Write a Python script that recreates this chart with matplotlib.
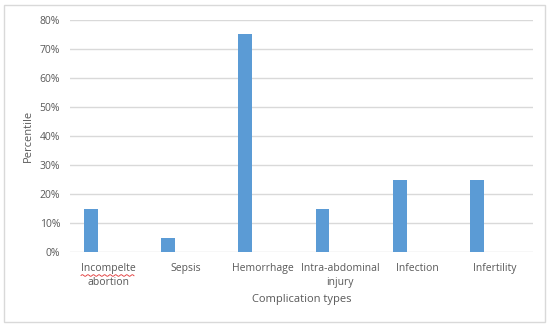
import numpy as np
import matplotlib.pyplot as plt
from matplotlib.patches import Rectangle

# Complication types and the share of cases for each.
categories = ["Incompelte\nabortion", "Sepsis", "Hemorrhage",
              "Intra-abdominal\ninjury", "Infection", "Infertility"]
percent = [15, 5, 75, 15, 25, 25]
y_ticks = [0, 10, 20, 30, 40, 50, 60, 70, 80]

plt.rcParams['font.family'] = ['Open Sans', 'DejaVu Sans']
text_col = '#595959'
grid_col = '#D9D9D9'

fig = plt.figure(figsize=(5.53, 3.27), dpi=100, facecolor='w')
ax = fig.add_axes([70/553, 1 - 252/327, 463/553, 232/327])

# Bars sit left of the category centre, as in a two-series cluster.
x = np.arange(len(categories))
ax.bar(x - 0.228, percent, width=0.18, color='#5B9BD5', zorder=3)

ax.set_xlim(-0.5, len(categories) - 0.5)
ax.set_ylim(0, 80)
ax.set_yticks(y_ticks)
ax.set_yticklabels(["%d%%" % v for v in y_ticks])
ax.set_xticks(x)
ax.set_xticklabels(categories, linespacing=1.3)

for v in y_ticks:
    ax.axhline(v, color=grid_col, linewidth=1.0, zorder=1)

for s in ax.spines.values():
    s.set_visible(False)
ax.tick_params(length=0, colors=text_col, labelsize=7.5)
ax.tick_params(axis='x', pad=8)
ax.tick_params(axis='y', pad=7)

ax.set_xlabel("Complication types", color=text_col, fontsize=8, labelpad=5)
ax.set_ylabel("Percentile", color=text_col, fontsize=8, labelpad=4)

# Spell-check squiggle under the misspelt label.
xs = np.linspace(81/553, 134/553, 60)
ys = (1 - 275.5/327) + 0.0025 * np.sin(np.linspace(0, 60, 60))
fig.lines.append(plt.Line2D(xs, ys, transform=fig.transFigure,
                            color='#E03030', linewidth=0.6))

# Chart border.
fig.patches.append(Rectangle((4/553, 1 - 322/327), 541/553, 317/327,
                             transform=fig.transFigure, fill=False,
                             edgecolor='#D9D9D9', linewidth=1.0))

fig.savefig("out.png", dpi=100, facecolor='w')
